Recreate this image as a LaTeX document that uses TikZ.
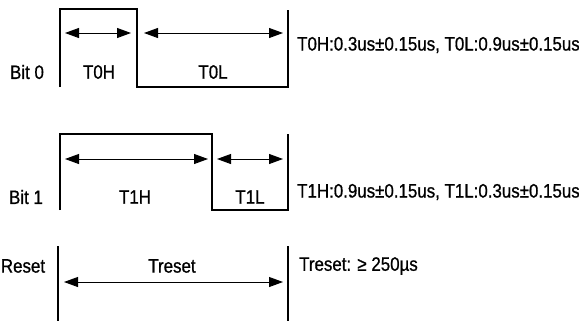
\documentclass[tikz,border=0pt]{standalone}
\usepackage{fontspec}
\setmainfont{Liberation Sans}[FakeStretch=0.87,FakeBold=0.8]
\usetikzlibrary{arrows.meta}

\tikzset{
  wave/.style={line width=1.9bp, line join=miter},
  span/.style={line width=0.9bp,
    {Triangle[length=14bp,width=10bp]}-{Triangle[length=14bp,width=10bp]}},
  lbl/.style={font=\fontsize{19.5}{22}\selectfont, inner sep=0pt},
  note/.style={lbl, anchor=west},
}

\begin{document}
\begin{tikzpicture}[x=1bp,y=-1bp]
      \useasboundingbox (0,0) rectangle (579,321);

      % bit 0
      \node[lbl] (bit0) at (27, 72) {Bit 0};
      \node[lbl] (t0h) at (99, 72) {T0H};
      \node[lbl] (t0l) at (213, 72) {T0L};
      \node[note] (note0) at (297, 45) {T0H:0.3us\textpm0.15us, T0L:0.9us\textpm0.15us};

      \coordinate (t0h_l) at (65, 33);
      \coordinate (t0h_r) at (131, 33);
      \coordinate (t0l_l) at (144, 33);
      \coordinate (t0l_r) at (283, 33);

      \draw[wave] (60, 87) -- (60, 9) -- (137, 9) -- (137, 87) -- (288, 87) -- (288, 10);
      \draw[span] (t0h_l) -- (t0h_r);
      \draw[span] (t0l_l) -- (t0l_r);

      % bit 1
      \node[lbl] (bit1) at (26, 197) {Bit 1};
      \node[lbl] (t1h) at (135, 197) {T1H};
      \node[lbl] (t1l) at (250, 197) {T1L};
      \node[note] (note1) at (297, 192) {T1H:0.9us\textpm0.15us, T1L:0.3us\textpm0.15us};

      \coordinate (t1h_l) at (65, 159);
      \coordinate (t1h_r) at (208, 159);
      \coordinate (t1l_l) at (217, 159);
      \coordinate (t1l_r) at (283, 159);

      \draw[wave] (60, 210) -- (60, 134) -- (212, 134) -- (212, 210) -- (288, 210) -- (288, 134);
      \draw[span] (t1h_l) -- (t1h_r);
      \draw[span] (t1l_l) -- (t1l_r);

      % reset
      \node[lbl] (reset) at (23, 266) {Reset};
      \node[lbl] (treset) at (172, 266) {Treset};
      \node[note] (noter) at (299, 266) {Treset: \symbol{"2265} 250\textmu s};

      \coordinate (tr_l) at (64, 282);
      \coordinate (tr_r) at (283, 282);

      \draw[wave] (58, 246) -- (58, 321);
      \draw[wave] (288, 246) -- (288, 321);
      \draw[span] (tr_l) -- (tr_r);
    \end{tikzpicture}
\end{document}
